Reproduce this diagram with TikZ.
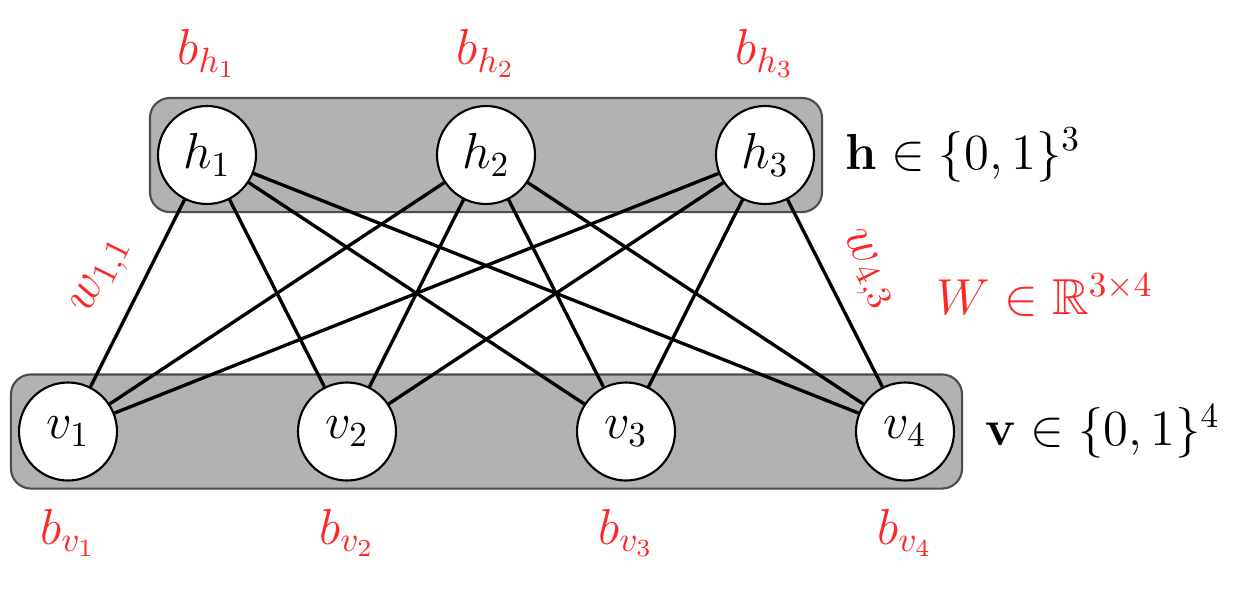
\documentclass[tikz,border=0pt]{standalone}
\usepackage{amsmath,amssymb}
\usepackage{tikz}
\usetikzlibrary{positioning,fit,backgrounds}
\usepackage{color}
\colorlet{biasred}{red!85}
\colorlet{layergray}{black!30}

\begin{document}
\begin{tikzpicture}[
        unit/.style={circle, draw, fill=white, semithick, minimum size=0.98cm, inner sep=0pt, font=\Large},
        layer/.style={draw=black!70, fill=layergray, semithick, rounded corners=0.2cm, inner sep=0.07cm},
        bias/.style={text=biasred, font=\Large},
        weight/.style={text=biasred, font=\Large, sloped, above=2pt},
        setlabel/.style={font=\Large}
    ]
        \useasboundingbox (0,0) rectangle (12.56,5.88);
        \foreach \i/\x in {1/2.07,2/4.86,3/7.65}{
            \node[unit] (h\i) at (\x,4.33) {$h_\i$};
            \node[bias, above=0.15cm of h\i] (bh\i) {$b_{h_\i}$};
        }
        \foreach \j/\x in {1/0.68,2/3.47,3/6.26,4/9.05}{
            \node[unit] (v\j) at (\x,1.565) {$v_\j$};
            \node[bias, below=0.15cm of v\j] (bv\j) {$b_{v_\j}$};
        }
        \begin{scope}[on background layer]
            \node[layer, fit=(h1)(h3)] (hbox) {};
            \node[layer, fit=(v1)(v4)] (vbox) {};
        \end{scope}
        \foreach \i in {1,2,3}{
            \foreach \j in {1,...,4}{
                \draw[line width=0.95pt] (h\i) -- (v\j);
            }
        }
        \path (v1) -- node[weight, pos=0.5] (w11) {$w_{1,1}$} (h1);
        \path (h3) -- node[weight, pos=0.47] (w43) {$w_{4,3}$} (v4);
        \node[setlabel, right=0.1cm of hbox] (hset) {$\mathbf{h} \in \{0,1\}^3$};
        \node[setlabel, right=0.1cm of vbox] (vset) {$\mathbf{v} \in \{0,1\}^4$};
        \node[bias] (wset) at (10.45,2.93) {$W \in \mathbb{R}^{3\times 4}$};
    \end{tikzpicture}
\end{document}
